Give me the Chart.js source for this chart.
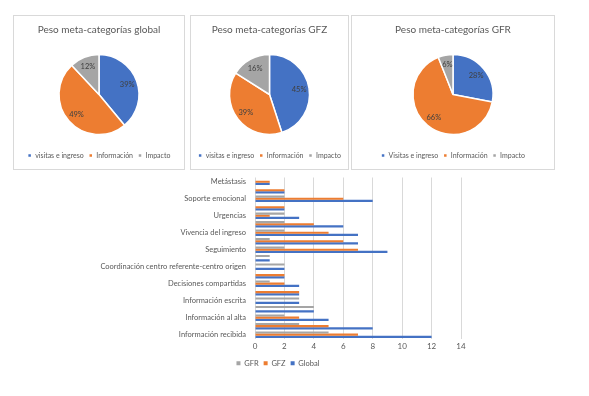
<!DOCTYPE html>
<html>
<head>
<meta charset="utf-8">
<script src="https://cdn.jsdelivr.net/npm/chart.js@4/dist/chart.umd.min.js"></script>
<style>
  body { margin: 0; background: #fff; width: 589px; height: 396px; position: relative; overflow: hidden; }
  .caja { position: absolute; border: 1px solid #d9d9d9; box-sizing: border-box; }
  .zona { position: absolute; }
</style>
</head>
<body>
<div class="caja" style="left:13px;top:15px;width:172px;height:155px"><canvas id="pieGlobal"></canvas></div>
<div class="caja" style="left:190px;top:15px;width:159px;height:155px"><canvas id="pieGFZ"></canvas></div>
<div class="caja" style="left:351px;top:15px;width:204px;height:155px"><canvas id="pieGFR"></canvas></div>
<div class="zona" style="left:95px;top:172px;width:384px;height:205px"><canvas id="barras"></canvas></div>
<script>
// pesos de las meta-categorias (%)
const metaCategorias = ['visitas e ingreso', 'Información', 'Impacto']
const metaCategoriasGFR = ['Visitas e ingreso', 'Información', 'Impacto']
const pesoGlobal = [39, 49, 12]
const pesoGFZ = [45, 39, 16]
const pesoGFR = [28, 66, 6]

// categorias del grafico de barras (de arriba a abajo), las vacias no llevan etiqueta visible
const categorias = ['Metástasis', '', 'Soporte emocional', '', 'Urgencias', '', 'Vivencia del ingreso', '',
  'Seguimiento', '', 'Coordinación centro referente-centro origen', '', 'Decisiones compartidas', '',
  'Información escrita', '', 'Información al alta', '', 'Información recibida']
const valoresGFR    = [0, 0, 2, 0, 2, 2, 2, 1, 2, 1, 2, 0, 1, 0, 3, 4, 2, 3, 5]
const valoresGFZ    = [1, 2, 6, 2, 1, 4, 5, 6, 7, 0, 0, 2, 2, 3, 0, 0, 3, 5, 7]
const valoresGlobal = [1, 2, 8, 2, 3, 6, 7, 7, 9, 1, 2, 2, 3, 3, 3, 4, 5, 8, 12]
const ticksX = [0, 2, 4, 6, 8, 10, 12, 14]

const colores = ['#4472C4', '#ED7D31', '#A5A5A5']
const gris = '#595959'
const fuente = 'Lato'

const etiquetasPct = {
  id: 'etiquetasPct',
  afterDatasetsDraw(chart) {
    const ctx = chart.ctx
    const meta = chart.getDatasetMeta(0)
    const data = chart.data.datasets[0].data
    ctx.save()
    ctx.font = '7.5px ' + fuente
    ctx.fillStyle = '#404040'
    ctx.textAlign = 'center'
    ctx.textBaseline = 'middle'
    meta.data.forEach((arc, i) => {
      const p = arc.getProps(['x', 'y', 'startAngle', 'endAngle', 'outerRadius'], true)
      const a = (p.startAngle + p.endAngle) / 2
      const r = p.outerRadius * 0.75
      ctx.fillText(data[i] + '%', p.x + Math.cos(a) * r, p.y + Math.sin(a) * r)
    })
    ctx.restore()
  }
}

const pastel = (id, titulo, etiquetas, valores) => {
  new Chart(document.getElementById(id), {
    type: 'pie',
    data: {
      labels: etiquetas,
      datasets: [{ data: valores, backgroundColor: colores, borderColor: '#fff', borderWidth: 1.5 }]
    },
    options: {
      responsive: true,
      maintainAspectRatio: false,
      animation: false,
      radius: 40,
      plugins: {
        title: {
          display: true,
          text: titulo,
          color: gris,
          font: { family: fuente, size: 10, weight: 'normal' },
          padding: { top: 8, bottom: 6 }
        },
        legend: {
          position: 'bottom',
          labels: { boxWidth: 4, boxHeight: 4, color: gris, font: { family: fuente, size: 7 }, padding: 5 }
        },
        tooltip: { enabled: false }
      }
    },
    plugins: [etiquetasPct]
  })
}

pastel('pieGlobal', 'Peso meta-categorías global', metaCategorias, pesoGlobal)
pastel('pieGFZ', 'Peso meta-categorías GFZ', metaCategorias, pesoGFZ)
pastel('pieGFR', 'Peso meta-categorías GFR', metaCategoriasGFR, pesoGFR)

new Chart(document.getElementById('barras'), {
  type: 'bar',
  data: {
    labels: categorias,
    datasets: [
      { label: 'GFR', data: valoresGFR, backgroundColor: '#A5A5A5' },
      { label: 'GFZ', data: valoresGFZ, backgroundColor: '#ED7D31' },
      { label: 'Global', data: valoresGlobal, backgroundColor: '#4472C4' }
    ]
  },
  options: {
    indexAxis: 'y',
    responsive: true,
    maintainAspectRatio: false,
    animation: false,
    datasets: { bar: { categoryPercentage: 0.76, barPercentage: 1 } },
    layout: { padding: { top: 3, right: 18 } },
    plugins: {
      legend: {
        position: 'bottom',
        labels: { boxWidth: 4, boxHeight: 4, color: gris, font: { family: fuente, size: 7.5 }, padding: 5 }
      },
      tooltip: { enabled: false }
    },
    scales: {
      x: {
        min: ticksX[0],
        max: ticksX[ticksX.length - 1],
        ticks: { stepSize: ticksX[1] - ticksX[0], color: gris, font: { family: fuente, size: 8 } },
        grid: { color: '#d9d9d9', drawTicks: false },
        border: { display: false }
      },
      y: {
        ticks: { autoSkip: false, padding: 1, color: gris, font: { family: fuente, size: 7.5 } },
        grid: { display: false },
        border: { display: false },
        afterFit(s) { s.width = 160 }
      }
    }
  }
})
</script>
</body>
</html>
